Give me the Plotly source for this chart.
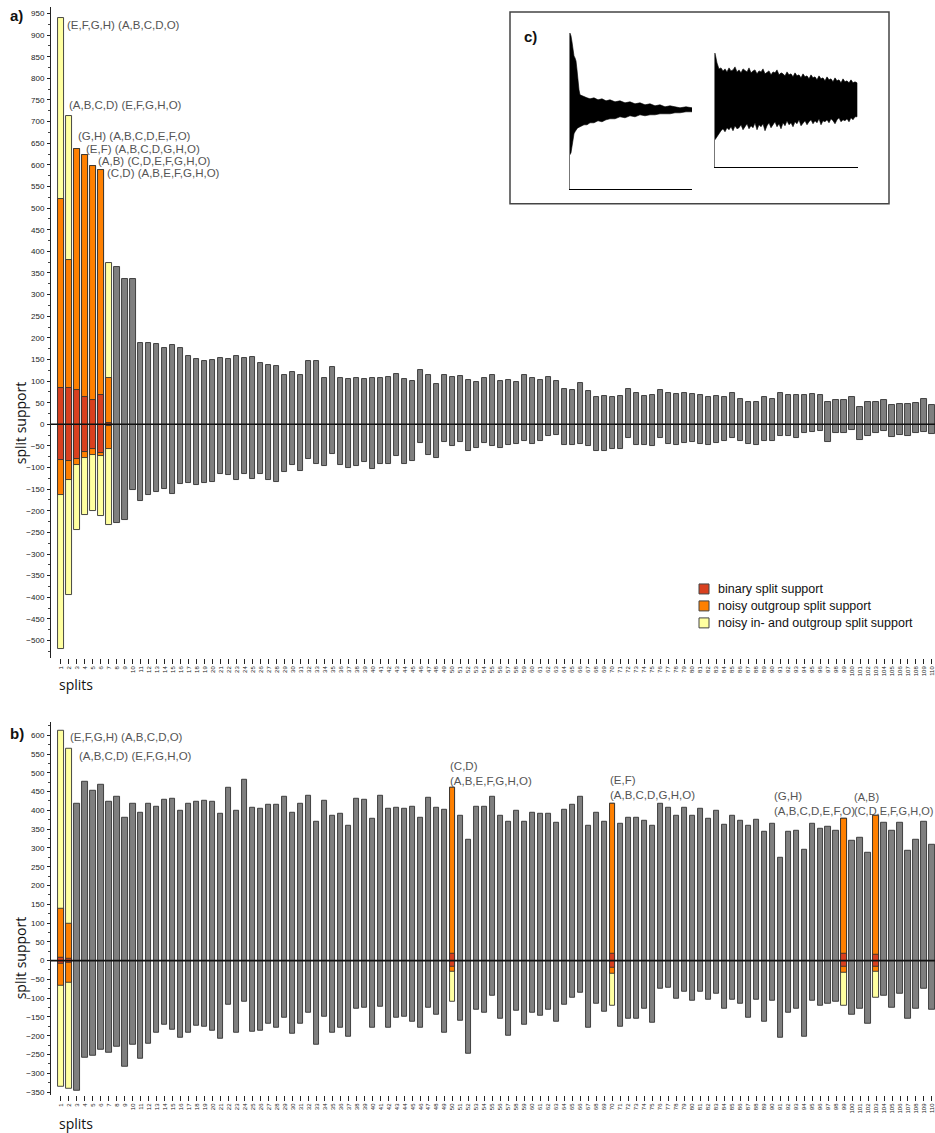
import plotly.graph_objects as go

# ---------------------------------------------------------------- data
splits = list(range(1, 111))
split_ticks = [str(s) for s in splits]

# panel a) split support above / below zero for each split
a_top = [940, 714, 637, 622, 598, 589, 372, 364, 337, 335,
         188, 187, 186, 176, 184, 176, 159, 150, 146, 148,
         153, 150, 159, 153, 155, 141, 138, 135, 115, 122,
         115, 146, 146, 106, 132, 108, 104, 108, 105, 108,
         107, 109, 116, 104, 101, 125, 113, 93, 115, 109,
         112, 102, 99, 107, 115, 100, 102, 98, 113, 107,
         102, 109, 101, 82, 79, 95, 77, 63, 65, 63,
         65, 82, 72, 65, 67, 79, 72, 70, 72, 71,
         67, 63, 65, 63, 72, 58, 52, 52, 64, 59,
         72, 67, 68, 68, 69, 68, 52, 56, 56, 63,
         41, 52, 52, 56, 45, 48, 46, 49, 58, 45]
a_bottom = [-520, -395, -244, -209, -200, -212, -232, -229, -221, -152,
            -177, -164, -157, -149, -162, -137, -136, -140, -136, -134,
            -116, -118, -129, -116, -127, -114, -129, -133, -111, -93,
            -108, -81, -91, -97, -68, -94, -101, -96, -87, -104,
            -91, -91, -73, -91, -85, -44, -72, -78, -42, -51,
            -41, -61, -54, -44, -51, -55, -48, -46, -38, -46,
            -38, -28, -25, -47, -47, -46, -50, -61, -61, -56,
            -56, -31, -48, -48, -50, -31, -46, -47, -43, -42,
            -46, -47, -43, -39, -31, -39, -46, -48, -38, -39,
            -27, -28, -31, -19, -18, -15, -41, -20, -21, -13,
            -37, -27, -21, -15, -30, -25, -27, -20, -18, -22]
# splits of panel a) that carry binary / noisy support
a_marked = [1, 2, 3, 4, 5, 6, 7]
a_out_top = [520, 380, 637, 622, 598, 589, 107]
a_out_bottom = [-163, -128, -93, -78, -70, -74, -57]
a_bin_top = [83, 85, 80, 63, 57, 67, 4]
a_bin_bottom = [-83, -85, -80, -64, -57, -67, -5]
a_labels = ["(E,F,G,H) (A,B,C,D,O)", "(A,B,C,D) (E,F,G,H,O)",
            "(G,H) (A,B,C,D,E,F,O)", "(E,F) (A,B,C,D,G,H,O)",
            "(A,B) (C,D,E,F,G,H,O)", "(C,D) (A,B,E,F,G,H,O)"]

# panel b)
b_top = [611, 563, 417, 475, 452, 468, 422, 435, 380, 419,
         395, 419, 410, 429, 430, 400, 417, 423, 427, 423,
         391, 460, 399, 481, 407, 404, 416, 415, 435, 395,
         417, 439, 370, 425, 386, 390, 358, 431, 428, 379,
         440, 405, 406, 404, 410, 381, 433, 408, 403, 460,
         387, 323, 411, 409, 435, 386, 369, 399, 371, 395,
         391, 391, 367, 403, 415, 435, 358, 393, 370, 419,
         364, 381, 381, 372, 359, 418, 408, 385, 406, 386,
         404, 379, 399, 361, 385, 372, 358, 375, 343, 364,
         274, 343, 345, 295, 364, 352, 356, 346, 378, 319,
         326, 287, 386, 366, 345, 366, 292, 322, 371, 309]
b_bottom = [-335, -341, -346, -258, -254, -238, -245, -229, -283, -223,
            -260, -220, -193, -171, -183, -204, -192, -174, -176, -187,
            -207, -118, -193, -110, -189, -186, -169, -178, -151, -196,
            -167, -138, -223, -149, -193, -178, -203, -127, -125, -180,
            -123, -180, -151, -149, -162, -180, -125, -145, -191, -110,
            -160, -249, -130, -138, -93, -155, -199, -133, -171, -140,
            -147, -130, -164, -118, -100, -85, -180, -114, -137, -120,
            -176, -154, -154, -128, -166, -75, -73, -102, -83, -108,
            -83, -104, -89, -128, -104, -114, -151, -103, -162, -106,
            -204, -139, -129, -202, -106, -121, -115, -110, -120, -144,
            -128, -169, -99, -93, -125, -87, -154, -128, -76, -131]
b_marked = [1, 2, 50, 70, 99, 103]
b_out_top = [138, 97, 460, 419, 378, 386]
b_out_bottom = [-67, -59, -29, -34, -31, -29]
b_bin_top = [8, 6, 17, 19, 17, 15]
b_bin_bottom = [-8, -6, -16, -18, -16, -15]
b_labels = ["(E,F,G,H) (A,B,C,D,O)", "(A,B,C,D) (E,F,G,H,O)",
            "(C,D)<br>(A,B,E,F,G,H,O)", "(E,F)<br>(A,B,C,D,G,H,O)",
            "(G,H)<br>(A,B,C,D,E,F,O)", "(A,B)<br>(C,D,E,F,G,H,O)"]

legend_names = ["binary split support", "noisy outgroup split support",
                "noisy in- and outgroup split support"]

# panel c) convergence traces: envelope of the support signal
c1_x = [0, 1, 2, 3, 4, 5, 6, 7, 8, 9, 10, 12, 14, 17, 20, 24, 28, 32, 36, 40,
        45, 50, 55, 60, 65, 70, 75, 80, 85, 90, 95, 100, 105, 110, 116, 122]
c1_upper = [156, 153, 147, 139, 133, 131, 128, 119, 107, 99, 94, 93, 92, 91, 90, 91, 89, 90, 88, 89,
            87, 88, 86, 87, 85, 86, 84, 85, 83, 84, 82, 83, 82, 81, 82, 81]
c1_lower = [34, 36, 40, 48, 55, 57, 59, 60, 61, 62, 62, 63, 64, 64, 66, 66, 68, 67, 69, 70,
            70, 72, 71, 73, 72, 74, 73, 74, 74, 75, 75, 75, 76, 76, 77, 77]

c2_x = list(range(0, 143, 2))
c2_upper = [114, 104, 98, 99, 96, 98, 95, 99, 96, 97, 100, 95,
            97, 94, 98, 96, 95, 99, 94, 96, 97, 93, 96, 95,
            98, 93, 95, 96, 92, 95, 94, 97, 92, 94, 93, 91,
            95, 92, 93, 90, 94, 91, 92, 89, 93, 90, 91, 88,
            92, 89, 90, 87, 91, 88, 89, 86, 90, 87, 88, 85,
            89, 86, 87, 84, 88, 85, 86, 84, 87, 84, 85, 84]
c2_lower = [27, 30, 33, 36, 38, 35, 39, 37, 40, 36, 41, 38,
            39, 42, 37, 40, 43, 38, 41, 39, 44, 37, 42, 40,
            43, 36, 41, 44, 39, 42, 45, 40, 43, 38, 44, 41,
            46, 42, 44, 40, 45, 43, 47, 41, 44, 46, 42, 45,
            47, 43, 46, 44, 48, 42, 46, 45, 47, 44, 48, 46,
            43, 47, 49, 45, 47, 46, 48, 45, 49, 47, 50, 50]

# ---------------------------------------------------------------- styles
W, H = 935, 1133
RED, ORANGE, YELLOW, GREY = "#D9401F", "#FF8000", "#FFFFA0", "#7F7F7F"
EDGE = "#333333"
BAR_W = 0.65
TEXT_GREY = "#555555"
SANS = "Liberation Sans, Arial, sans-serif"
TITLE_FONT = "Open Sans, Noto Sans, sans-serif"


def fx(p):
    return p / W


def fy(p):
    return 1 - p / H


fig = go.Figure()


def add_panel(xa, ya, top, bottom, marked, out_top, out_bottom, bin_top, bin_bottom):
    plain = [s for s in splits if s not in marked]
    fig.add_trace(go.Bar(
        x=plain, y=[top[s - 1] - bottom[s - 1] for s in plain],
        base=[bottom[s - 1] for s in plain], width=BAR_W,
        marker=dict(color=GREY, line=dict(color=EDGE, width=0.9)),
        xaxis=xa, yaxis=ya, showlegend=False, hoverinfo="skip"))
    # noisy in- and outgroup support spans the whole bar
    fig.add_trace(go.Bar(
        x=marked, y=[top[s - 1] - bottom[s - 1] for s in marked],
        base=[bottom[s - 1] for s in marked], width=BAR_W,
        marker=dict(color=YELLOW, line=dict(color=EDGE, width=0.9)),
        xaxis=xa, yaxis=ya, showlegend=False, hoverinfo="skip"))
    fig.add_trace(go.Bar(
        x=marked, y=[t - b for t, b in zip(out_top, out_bottom)],
        base=out_bottom, width=BAR_W,
        marker=dict(color=ORANGE, line=dict(color=EDGE, width=0.9)),
        xaxis=xa, yaxis=ya, showlegend=False, hoverinfo="skip"))
    fig.add_trace(go.Bar(
        x=marked, y=[t - b for t, b in zip(bin_top, bin_bottom)],
        base=bin_bottom, width=BAR_W,
        marker=dict(color=RED, line=dict(color=EDGE, width=0.9)),
        xaxis=xa, yaxis=ya, showlegend=False, hoverinfo="skip"))


add_panel("x", "y", a_top, a_bottom, a_marked, a_out_top, a_out_bottom,
          a_bin_top, a_bin_bottom)
add_panel("x2", "y2", b_top, b_bottom, b_marked, b_out_top, b_out_bottom,
          b_bin_top, b_bin_bottom)

# panel c) envelopes drawn as filled bands
fig.add_trace(go.Scatter(
    x=c1_x + c1_x[::-1], y=c1_upper + c1_lower[::-1], fill="toself",
    fillcolor="black", mode="lines", line=dict(color="black", width=0.6),
    xaxis="x3", yaxis="y3", showlegend=False, hoverinfo="skip"))
fig.add_trace(go.Scatter(
    x=c2_x + c2_x[::-1], y=c2_upper + c2_lower[::-1], fill="toself",
    fillcolor="black", mode="lines", line=dict(color="black", width=0.6),
    xaxis="x4", yaxis="y4", showlegend=False, hoverinfo="skip"))

x_range = [-0.25, 110.38]
x_common = dict(range=x_range, tickmode="array", tickvals=splits, ticktext=split_ticks,
                tickangle=-90, tickfont=dict(size=6, family=SANS, color="#222"),
                ticks="outside", ticklen=5, tickwidth=1, tickcolor="#222",
                showline=False, showgrid=False, zeroline=False, fixedrange=True)
y_common = dict(showline=True, linecolor="#222", linewidth=1, ticks="outside",
                ticklen=3, tickwidth=1, tickcolor="#222", showgrid=False, zeroline=False,
                tickfont=dict(size=8, family=SANS, color="#222"), ticklabelstandoff=1,
                minor=dict(dtick=25, ticks="outside", ticklen=2, tickcolor="#444"))

fig.update_layout(
    width=W, height=H, margin=dict(l=0, r=0, t=0, b=0),
    paper_bgcolor="white", plot_bgcolor="white", barmode="overlay",
    showlegend=False, bargap=0,
    xaxis=dict(domain=[fx(51), 1], anchor="y", **x_common),
    yaxis=dict(domain=[fy(659), fy(7)], anchor="x", range=[-540, 965],
               tickmode="array", tickvals=list(range(-500, 951, 50)), **y_common),
    xaxis2=dict(domain=[fx(51), 1], anchor="y2", **x_common),
    yaxis2=dict(domain=[fy(1097), fy(723)], anchor="x2", range=[-358, 636],
                tickmode="array", tickvals=list(range(-350, 601, 50)), **y_common),
    xaxis3=dict(domain=[fx(570), fx(692)], anchor="y3", range=[0, 122],
                showline=True, linecolor="black", linewidth=1.3, showticklabels=False,
                ticks="", showgrid=False, zeroline=False),
    yaxis3=dict(domain=[fy(189), fy(33)], anchor="x3", range=[0, 156],
                showline=True, linecolor="#777", linewidth=1, showticklabels=False,
                ticks="", showgrid=False, zeroline=False),
    xaxis4=dict(domain=[fx(715), fx(858)], anchor="y4", range=[0, 143],
                showline=True, linecolor="black", linewidth=1.3, showticklabels=False,
                ticks="", showgrid=False, zeroline=False),
    yaxis4=dict(domain=[fy(167), fy(53)], anchor="x4", range=[0, 114],
                showline=True, linecolor="#777", linewidth=1, showticklabels=False,
                ticks="", showgrid=False, zeroline=False),
)

shapes = []
# zero lines over the bars
for xr, yr in (("x", "y"), ("x2", "y2")):
    shapes.append(dict(type="line", xref=xr, yref=yr, x0=x_range[0], x1=x_range[1],
                       y0=0, y1=0, line=dict(color="#111", width=1.6), layer="above"))
# frame of the inset
shapes.append(dict(type="rect", xref="paper", yref="paper", x0=fx(510), x1=fx(889),
                   y0=fy(204), y1=fy(12), line=dict(color="#444", width=1.5),
                   fillcolor="rgba(0,0,0,0)"))
# legend swatches
legend_rows = [590, 607, 624]
for yc, col in zip(legend_rows, [RED, ORANGE, YELLOW]):
    shapes.append(dict(type="rect", xref="paper", yref="paper", x0=fx(699), x1=fx(709),
                       y0=fy(yc + 5), y1=fy(yc - 5), fillcolor=col,
                       line=dict(color="#444", width=1)))

annotations = []
for yc, name in zip(legend_rows, legend_names):
    annotations.append(dict(xref="paper", yref="paper", x=fx(716), y=fy(yc), text=name,
                            showarrow=False, xanchor="left", yanchor="middle",
                            font=dict(size=12.5, family=SANS, color="#111")))

# split labels next to the marked bars (x, y in data units)
a_label_pos = [(1.50, 924), (1.75, 739), (2.88, 666), (3.88, 636), (5.38, 608), (6.51, 580)]
for (lx, ly), txt in zip(a_label_pos, a_labels):
    annotations.append(dict(xref="x", yref="y", x=lx, y=ly, text=txt, showarrow=False,
                            xanchor="left", yanchor="middle",
                            font=dict(size=11.5, family=SANS, color=TEXT_GREY)))
b_label_pos = [(1.88, 596), (3.0, 546), (49.44, 497), (69.46, 462), (89.99, 417), (100.0, 417)]
b_label_size = [11.5, 11.5, 11.5, 11.5, 11.5, 11]
for (lx, ly), txt, fs in zip(b_label_pos, b_labels, b_label_size):
    annotations.append(dict(xref="x2", yref="y2", x=lx, y=ly, text=txt, showarrow=False,
                            xanchor="left", yanchor="middle", align="left",
                            font=dict(size=fs, family=SANS, color=TEXT_GREY)))

# axis titles and panel letters
for yc in (424, 960):
    annotations.append(dict(xref="paper", yref="paper", x=fx(20), y=fy(yc),
                            text="split support", textangle=-90, showarrow=False,
                            xanchor="center", yanchor="middle",
                            font=dict(size=14, family=TITLE_FONT, color="#111")))
for yc in (686, 1125):
    annotations.append(dict(xref="paper", yref="paper", x=fx(57), y=fy(yc),
                            text="splits", showarrow=False, xanchor="left", yanchor="middle",
                            font=dict(size=14, family=TITLE_FONT, color="#111")))
for txt, xl, yc in (("a)", 8, 16), ("b)", 8, 735), ("c)", 522, 37)):
    annotations.append(dict(xref="paper", yref="paper", x=fx(xl), y=fy(yc),
                            text="<b>%s</b>" % txt, showarrow=False, xanchor="left",
                            yanchor="middle", font=dict(size=15, family=SANS, color="#111")))

fig.update_layout(shapes=shapes, annotations=annotations)
fig.write_html("out.html")
